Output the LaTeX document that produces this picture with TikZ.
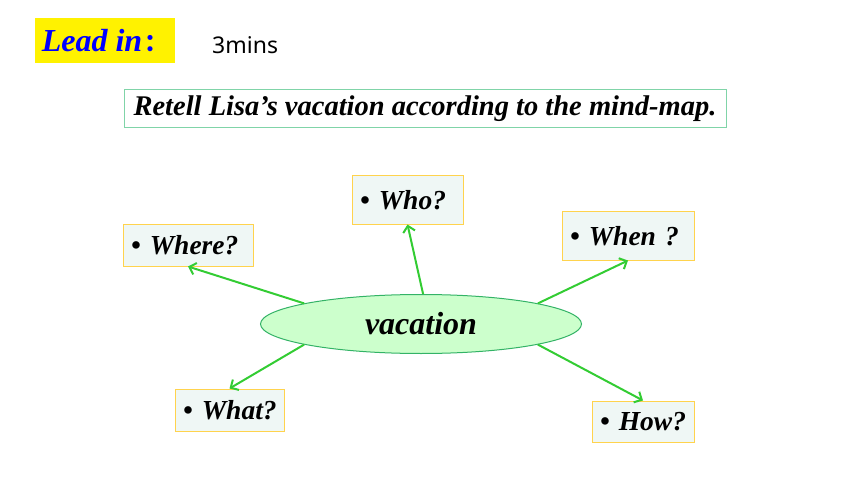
\documentclass[tikz,border=0pt]{standalone}
\usepackage{fontspec}
\setmainfont{Liberation Serif}
\newfontfamily\labelsans{Noto Sans}
\newfontfamily\cjk{Noto Sans CJK SC}
\usetikzlibrary{shapes.geometric,arrows.meta}
\definecolor{boxfill}{HTML}{EFF7F5}
\definecolor{boxline}{HTML}{FFD34D}
\definecolor{ellfill}{HTML}{CCFFCC}
\definecolor{ellline}{HTML}{33B366}
\definecolor{arrowgreen}{HTML}{33CC33}
\definecolor{retline}{HTML}{80D4A8}
\tikzset{
  qbox/.style={draw=boxline, fill=boxfill, line width=1pt, inner xsep=8pt, inner ysep=0pt,
    align=left, font=\fontsize{27.5}{30}\selectfont\bfseries\itshape, anchor=center},
  link/.style={draw=arrowgreen, line width=2pt, -{Straight Barb[length=6pt,width=12pt,line width=2pt]}},
}
\begin{document}
\begin{tikzpicture}[x=1pt,y=-1pt]
\useasboundingbox (0,0) rectangle (860,484);
% header
\node[fill=yellow, minimum width=140pt, minimum height=45pt, inner sep=0pt, text=blue,
  font=\fontsize{32}{36}\selectfont\bfseries\itshape] (lead) at (105,40.5) {Lead in\kern2pt{\cjk\fontsize{24}{24}\selectfont ：}};
\node[font=\labelsans\fontsize{23}{26}\selectfont, anchor=west, inner sep=0pt] (mins) at (212,45) {3mins};
\node[draw=retline, line width=1pt, minimum width=602pt, minimum height=38pt, inner sep=0pt,
  font=\fontsize{28.5}{30}\selectfont\bfseries\itshape] (retell) at (425,109) {\raisebox{-2pt}{Retell Lisa’s vacation according to the mind-map.}};
% centre
\node[ellipse, draw=ellline, fill=ellfill, line width=1pt, minimum width=321pt, minimum height=59pt, inner sep=0pt,
  font=\fontsize{32}{36}\selectfont\bfseries\itshape] (vac) at (421,324) {vacation};
% question boxes
\node[qbox, text width=95pt, minimum height=48pt] (who) at (407.5,200) {\mbox{• Who?}};
\node[qbox, text width=114pt, minimum height=42pt] (where) at (188,245) {\mbox{• Where?}};
\node[qbox, text width=116pt, minimum height=48pt] (when) at (628,236) {\mbox{• When ?}};
\node[qbox, text width=93pt, minimum height=42pt] (what) at (229.5,410) {\mbox{• What?}};
\node[qbox, text width=86pt, minimum height=41pt] (how) at (643,421.5) {\mbox{• How?}};
% connectors
\draw[link] (vac.170) -- (where.south);
\draw[link] (vac.86) -- (who.south);
\draw[link] (vac.10) -- (when.south);
\draw[link] (vac.-10) -- (how.north);
\draw[link] (vac.190) -- (what.north);
\end{tikzpicture}
\end{document}
